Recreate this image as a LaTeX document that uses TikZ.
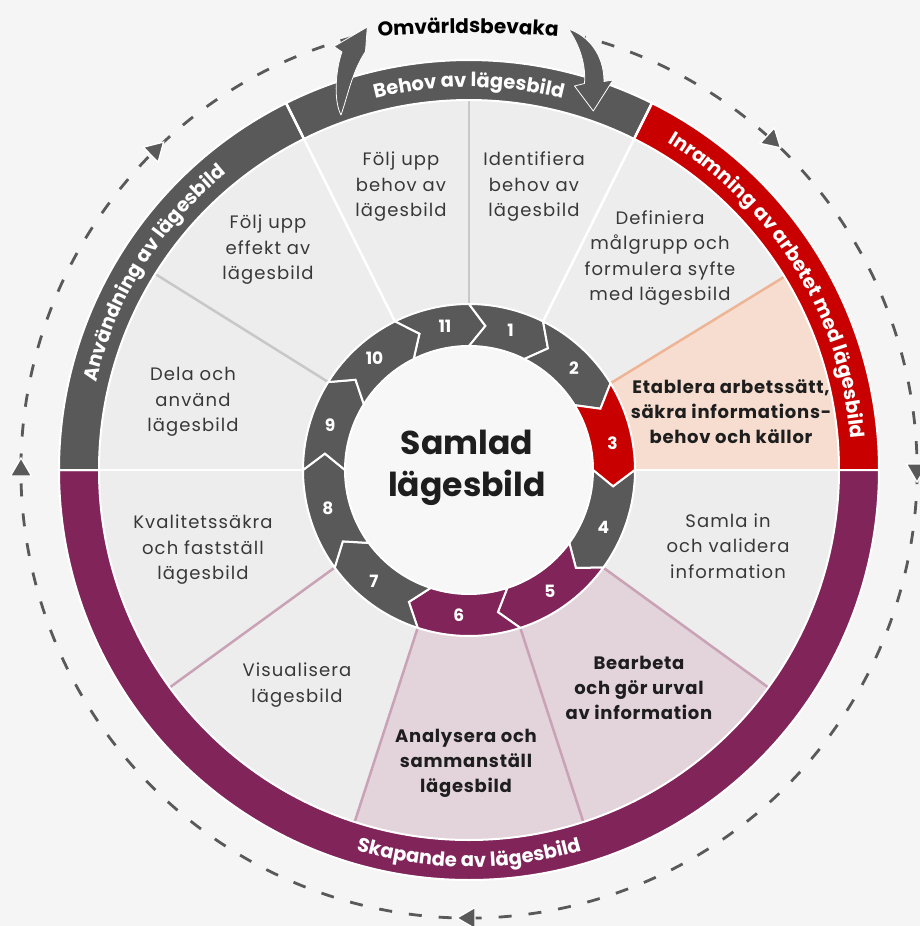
\documentclass[tikz,border=0pt]{standalone}
\usepackage{fontspec}
\setmainfont{Poppins}
\usetikzlibrary{decorations.text}
\definecolor{bg}{HTML}{F5F5F5}
\definecolor{sect}{HTML}{EDEDED}
\definecolor{hubfill}{HTML}{F7F7F7}
\definecolor{dgray}{HTML}{595959}
\definecolor{cred}{HTML}{C80000}
\definecolor{cpurp}{HTML}{80245A}
\definecolor{cpink}{HTML}{E3D3DB}
\definecolor{cpeach}{HTML}{F6DDD0}
\definecolor{lpink}{HTML}{C9A2B6}
\definecolor{lpeach}{HTML}{EDB596}
\definecolor{lgray}{HTML}{C8C8C8}
\definecolor{txt}{HTML}{383838}
\definecolor{btxt}{HTML}{1E1E1E}
\newcommand\bandfont{\fontsize{19.5}{19.5}\selectfont\bfseries\color{white}}
\newcommand\omvfont{\fontsize{20}{20}\selectfont\bfseries\color{black}}
\newcommand\stepseg[3]{%
  \filldraw[stepedge, fill=#3]
    (#1:166pt) arc[start angle=#1, end angle=#2, radius=166pt]
    -- ({#2-6.5}:145pt) -- (#2:124pt)
    arc[start angle=#2, end angle=#1, radius=124pt]
    -- ({#1-6.5}:145pt) -- cycle;}
\tikzset{
  seclabel/.style={align=center, text=txt, font=\fontsize{18}{25.5}\selectfont\addfontfeature{LetterSpace=6}, inner sep=0pt},
  secbold/.style={align=center, text=btxt, font=\fontsize{18}{25}\selectfont\bfseries\addfontfeature{LetterSpace=4}, inner sep=0pt},
  numlabel/.style={text=white, font=\fontsize{17}{17}\selectfont\bfseries, inner sep=0pt},
  stepedge/.style={draw=white, line width=2pt, line join=miter},
  secline/.style={line width=2.5pt},
  bandedge/.style={draw=white, line width=2pt},
  tri/.style={fill=dgray, draw=white, line width=1.3pt, line join=miter},
  bigarrow/.style={fill=dgray, draw=white, line width=0.8pt, line join=round},
  cycleline/.style={draw=dgray, line width=2.8pt, dash pattern=on 13pt off 17pt},
}
\begin{document}
\begin{tikzpicture}[x=1pt,y=1pt]
\useasboundingbox (-469,-456) rectangle (451,470);
\fill[bg] (-469,-456) rectangle (451,470);
% sector area
\fill[sect] (0,0) circle[radius=370pt];
\fill[cpeach] (0,0) -- (31.5:370pt) arc[start angle=31.5, end angle=0, radius=370pt] -- cycle;
\fill[cpink] (0,0) -- (-36:370pt) arc[start angle=-36, end angle=-108, radius=370pt] -- cycle;
% sector lines
\draw[secline, lgray] (90:166pt) -- (90:370pt);
\draw[secline, lgray] (148:166pt) -- (148:370pt);
\draw[secline, lpeach] (31.5:166pt) -- (31.5:370pt);
\foreach \a in {-36,-72,-108,-144} {\draw[secline, lpink] (\a:166pt) -- (\a:370pt);}
% outer band
\filldraw[bandedge, fill=dgray] (116.5:410pt) arc[start angle=116.5, end angle=63.5, radius=410pt] -- (63.5:370pt) arc[start angle=63.5, end angle=116.5, radius=370pt] -- cycle;
\filldraw[bandedge, fill=cred] (63.5:410pt) arc[start angle=63.5, end angle=0, radius=410pt] -- (0:370pt) arc[start angle=0, end angle=63.5, radius=370pt] -- cycle;
\filldraw[bandedge, fill=cpurp] (0:410pt) arc[start angle=0, end angle=-180, radius=410pt] -- (180:370pt) arc[start angle=-180, end angle=0, radius=370pt] -- cycle;
\filldraw[bandedge, fill=dgray] (180:410pt) arc[start angle=180, end angle=116.5, radius=410pt] -- (116.5:370pt) arc[start angle=116.5, end angle=180, radius=370pt] -- cycle;
\foreach \a in {0,63.5,116.5,180} {\draw[secline, white] (\a:166pt) -- (\a:411pt);}
% band texts
\path[decorate, decoration={text along path, text align=center, text={|\bandfont|Behov av lägesbild}}]
  (140:383pt) arc[start angle=140, end angle=40, radius=383pt];
\path[decorate, decoration={text along path, text align=center, text={|\bandfont|Användning av lägesbild}}]
  (210:383pt) arc[start angle=210, end angle=86, radius=383pt];
\path[decorate, decoration={text along path, text align=center, text={|\bandfont|Inramning av arbetet med lägesbild}}]
  (86.75:383pt) arc[start angle=86.75, end angle=-23.25, radius=383pt];
\path[decorate, decoration={text along path, text align=center, text={|\bandfont|Skapande av lägesbild}}]
  (-140:397pt) arc[start angle=-140, end angle=-40, radius=397pt];
% hub
\fill[hubfill] (0,0) circle[radius=124pt];
% steps
\stepseg{116.5}{90}{dgray}
\stepseg{90}{63.5}{dgray}
\stepseg{63.5}{31.5}{dgray}
\stepseg{31.5}{0}{cred}
\stepseg{0}{-36}{dgray}
\stepseg{-36}{-72}{cpurp}
\stepseg{-72}{-108}{cpurp}
\stepseg{-108}{-144}{dgray}
\stepseg{-144}{-180}{dgray}
\stepseg{180}{148}{dgray}
\stepseg{148}{116.5}{dgray}
% numbers
\node[numlabel] (n11) at (99.5:146pt) {11};
\node[numlabel] (n1) at (73.5:146pt) {1};
\node[numlabel] (n2) at (44:146pt) {2};
\node[numlabel] (n3) at (10.7:146pt) {3};
\node[numlabel] (n4) at (-23:146pt) {4};
\node[numlabel] (n5) at (-56.4:146pt) {5};
\node[numlabel] (n6) at (-94:146pt) {6};
\node[numlabel] (n7) at (-130.6:146pt) {7};
\node[numlabel] (n8) at (-165:146pt) {8};
\node[numlabel] (n9) at (162:146pt) {9};
\node[numlabel] (n10) at (130.3:146pt) {10};
% centre
\node[align=center, text=btxt, font=\fontsize{33}{42}\selectfont\bfseries, inner sep=0pt] (hub) at (-2,2) {Samlad\\lägesbild};
% sector labels
\node[seclabel] (s1) at (65,283) {Identifiera\\behov av\\lägesbild};
\node[seclabel] (s11) at (-68,283) {Följ upp\\behov av\\lägesbild};
\node[seclabel] (s2) at (191,212) {Definiera\\målgrupp och\\formulera syfte\\med lägesbild};
\node[seclabel] (s10) at (-201,220) {Följ upp\\effekt av\\lägesbild};
\node[seclabel] (s9) at (-276,68) {Dela och\\använd\\lägesbild};
\node[secbold] (s3) at (262,58) {Etablera arbetssätt,\\säkra informations-\\behov och källor};
\node[seclabel] (s4) at (259,-76) {Samla in\\och validera\\information};
\node[seclabel] (s8) at (-266,-80) {Kvalitetssäkra\\och fastställ\\lägesbild};
\node[secbold] (s5) at (170,-218) {Bearbeta\\och gör urval\\av information};
\node[seclabel] (s7) at (-172,-215) {Visualisera\\lägesbild};
\node[secbold] (s6) at (-3,-293) {Analysera och\\sammanställ\\lägesbild};
% outer cycle
\draw[cycleline] (105:448pt) arc[start angle=105, end angle=435, radius=448pt];
\foreach \a in {180,134.5,47.5,0,-90} {
  \begin{scope}[shift={(\a:448pt)}, rotate=\a-90]
    \filldraw[tri] (12pt,0pt) -- (-6pt,10.5pt) -- (-6pt,-10.5pt) -- cycle;
  \end{scope}}
% curved arrows
\filldraw[bigarrow] (-101.7,443) -- (-135,423.5) -- (-127,418)
  .. controls (-133,402) and (-136,370) .. (-128,355)
  .. controls (-121,375) and (-117,398) .. (-103.5,418.5) -- cycle;
\filldraw[bigarrow] (99.5,441) .. controls (120,434) and (135,415) .. (135,388.5)
  -- (144,390) -- (124.3,359) -- (105.5,384) -- (115.5,386.5)
  .. controls (117,405) and (111,424) .. (99.5,441) -- cycle;
\path[decorate, decoration={text along path, text align=center, text={|\omvfont|Omvärldsbevaka}}]
  (-192,420.3) arc[start angle=100, end angle=80, radius=1100pt];
\end{tikzpicture}
\end{document}
